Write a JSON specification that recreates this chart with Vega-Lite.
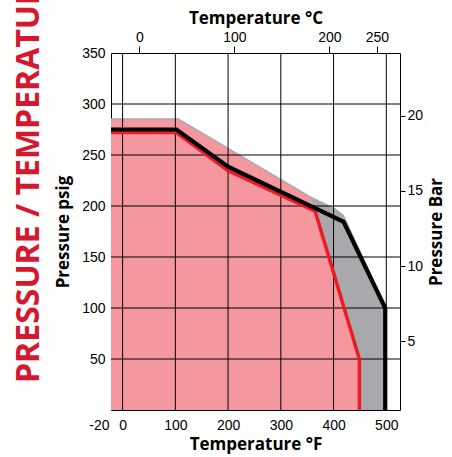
{
  "$schema": "https://vega.github.io/schema/vega-lite/v6.json",
  "width": 289,
  "height": 357,
  "autosize": "none",
  "padding": {"left": 111, "top": 53, "right": 52, "bottom": 47},
  "background": "#ffffff",
  "config": {
    "view": {"stroke": "#000000", "strokeWidth": 1},
    "axis": {"labelFont": "Liberation Sans", "labelFontSize": 14, "labelColor": "#000000", "titleFont": "Open Sans", "titleFontWeight": "bold", "titleFontSize": 17, "titleColor": "#000000", "grid": false, "domain": false, "labelOverlap": false, "labelFlush": false, "labelBound": false}
  },
  "title": {"text": "PRESSURE / TEMPERATURE", "orient": "left", "anchor": "start", "frame": "group", "font": "Open Sans", "fontWeight": "bold", "fontSize": 32, "color": "#d6182f", "offset": 9, "dx": 27},
  "datasets": {
    "gray": [
      {"F": -22, "psi": 286},
      {"F": 106, "psi": 286},
      {"F": 358, "psi": 209},
      {"F": 403, "psi": 198},
      {"F": 420, "psi": 191},
      {"F": 499, "psi": 102}
    ],
    "pink": [
      {"F": -22, "psi": 284.5},
      {"F": 106, "psi": 284.5},
      {"F": 357, "psi": 207.5},
      {"F": 365, "psi": 195},
      {"F": 450, "psi": 50}
    ],
    "black": [
      {"o": 1, "F": -22, "psi": 275},
      {"o": 2, "F": 102, "psi": 275},
      {"o": 3, "F": 200, "psi": 238.5},
      {"o": 4, "F": 365, "psi": 198},
      {"o": 5, "F": 419, "psi": 184.5},
      {"o": 6, "F": 498, "psi": 100},
      {"o": 7, "F": 498, "psi": 0}
    ],
    "red": [
      {"o": 1, "F": -22, "psi": 272},
      {"o": 2, "F": 102, "psi": 272},
      {"o": 3, "F": 200, "psi": 234.5},
      {"o": 4, "F": 365, "psi": 195},
      {"o": 5, "F": 449, "psi": 50},
      {"o": 6, "F": 449, "psi": 0}
    ],
    "vgrid": [{"F": 0}, {"F": 100}, {"F": 200}, {"F": 300}, {"F": 400}, {"F": 500}],
    "hgrid": [{"psi": 50}, {"psi": 100}, {"psi": 150}, {"psi": 200}, {"psi": 250}, {"psi": 300}],
    "aux": [{"C": 0, "bar": 5}]
  },
  "layer": [
    {
      "layer": [
        {
          "data": {"name": "gray"},
          "mark": {"type": "area", "color": "#a7a9ac", "opacity": 1},
          "encoding": {
            "x": {"field": "F", "type": "quantitative", "scale": {"domain": [-22, 526], "nice": false, "zero": false},
              "axis": {"title": "Temperature °F", "orient": "bottom", "values": [-20, 0, 100, 200, 300, 400, 500], "ticks": false, "labelPadding": 8, "titlePadding": 4,
                "labelExpr": "datum.value < 0 ? '-20' : datum.label",
                "labelAlign": {"condition": {"test": "datum.value == -20", "value": "right"}, "value": "center"},
                "labelOffset": {"condition": {"test": "datum.value == -20", "value": -3}, "value": 0}}},
            "y": {"field": "psi", "type": "quantitative", "scale": {"domain": [0, 350], "nice": false},
              "axis": {"title": "Pressure psig", "orient": "left", "values": [50, 100, 150, 200, 250, 300, 350], "ticks": false, "labelPadding": 6, "titlePadding": 9}}
          }
        },
        {
          "data": {"name": "pink"},
          "mark": {"type": "area", "color": "#f4979f", "opacity": 1},
          "encoding": {
            "x": {"field": "F", "type": "quantitative"},
            "y": {"field": "psi", "type": "quantitative"}
          }
        },
        {
          "data": {"name": "vgrid"},
          "mark": {"type": "rule", "color": "#000000", "strokeWidth": 1},
          "encoding": {"x": {"field": "F", "type": "quantitative"}}
        },
        {
          "data": {"name": "hgrid"},
          "mark": {"type": "rule", "color": "#000000", "strokeWidth": 1},
          "encoding": {"y": {"field": "psi", "type": "quantitative"}}
        },
        {
          "data": {"name": "red"},
          "mark": {"type": "line", "color": "#ed1c24", "strokeWidth": 3.5},
          "encoding": {
            "x": {"field": "F", "type": "quantitative"},
            "y": {"field": "psi", "type": "quantitative"},
            "order": {"field": "o", "type": "quantitative"}
          }
        },
        {
          "data": {"name": "black"},
          "mark": {"type": "line", "color": "#000000", "strokeWidth": 4.2},
          "encoding": {
            "x": {"field": "F", "type": "quantitative"},
            "y": {"field": "psi", "type": "quantitative"},
            "order": {"field": "o", "type": "quantitative"}
          }
        }
      ]
    },
    {
      "data": {"name": "aux"},
      "mark": {"type": "point", "opacity": 0},
      "encoding": {
        "x": {"field": "C", "type": "quantitative", "scale": {"domain": [-30, 274.44], "nice": false, "zero": false},
          "axis": {"title": "Temperature °C", "orient": "top", "values": [0, 100, 200, 250], "ticks": true, "tickSize": 7, "tickColor": "#000000", "tickWidth": 1, "labelPadding": 2, "titlePadding": 3}},
        "y": {"field": "bar", "type": "quantitative", "scale": {"domain": [0.44, 24.16], "nice": false, "zero": false},
          "axis": {"title": "Pressure Bar", "orient": "right", "values": [5, 10, 15, 20], "ticks": true, "tickSize": 5, "tickColor": "#000000", "tickWidth": 1, "labelPadding": 2, "titlePadding": 6, "titleAngle": 270, "titleBaseline": "top"}}
      }
    }
  ],
  "resolve": {"scale": {"x": "independent", "y": "independent"}}
}
